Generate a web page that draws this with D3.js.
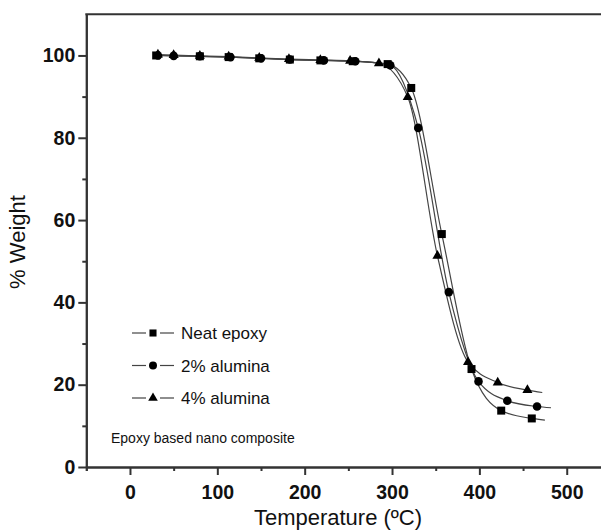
<!DOCTYPE html>
<html>
<head>
<meta charset="utf-8">
<script src="https://cdn.jsdelivr.net/npm/d3@7"></script>
<style>
  html, body { margin: 0; padding: 0; background: #fff; }
  svg { display: block; font-family: "Liberation Sans", Arial, sans-serif; }
</style>
</head>
<body>
<svg id="chart"></svg>
<script>
// Values (temperature in C, % weight)
const neatTemp = [30, 80, 113, 148, 183, 218, 255, 295, 322, 357, 391, 425, 460];
const neatWeight = [100.0, 99.8, 99.6, 99.3, 99.0, 98.8, 98.6, 97.9, 92.1, 56.6, 23.8, 13.7, 11.8];
const neatLineEnd = [475, 11.4];

const al2Temp = [32, 50, 80, 115, 150, 183, 222, 258, 298, 330, 365, 399, 432, 466];
const al2Weight = [100.0, 99.9, 99.8, 99.6, 99.3, 99.0, 98.8, 98.6, 97.6, 82.4, 42.5, 20.8, 16.1, 14.7];
const al2LineEnd = [482, 14.4];

const al4Temp = [32, 50, 80, 113, 148, 182, 218, 252, 285, 318, 352, 387, 421, 455];
const al4Weight = [100.2, 100.1, 99.9, 99.7, 99.4, 99.1, 98.9, 98.7, 98.1, 89.9, 51.3, 25.5, 20.5, 18.7];
const al4LineEnd = [472, 18.1];

const seriesNames = ['Neat epoxy', '2% alumina', '4% alumina'];
const xMajorTicks = [0, 100, 200, 300, 400, 500];
const xMinorTicks = [-50, 50, 150, 250, 350, 450, 550];
const yMajorTicks = [0, 20, 40, 60, 80, 100];
const yMinorTicks = [10, 30, 50, 70, 90];

const w = 601;
const h = 531;

const svg = d3.select('#chart')
    .attr('width', w)
    .attr('height', h);

// Scales (the frame runs past the right edge of the picture)
const scaleX = d3.scaleLinear().domain([-50, 550]).range([86.3, 610.4]);
const scaleY = d3.scaleLinear().domain([0, 110]).range([467, 14.3]);

const axisColor = '#333';

// Series
const makeSeries = (temps, weights, end, shape) => ({
    points: temps.map((t, i) => ({ t, w: weights[i] })),
    line: temps.map((t, i) => ({ t, w: weights[i] })).concat([{ t: end[0], w: end[1] }]),
    shape
});

const series = [
    makeSeries(neatTemp, neatWeight, neatLineEnd, 'square'),
    makeSeries(al2Temp, al2Weight, al2LineEnd, 'circle'),
    makeSeries(al4Temp, al4Weight, al4LineEnd, 'triangle')
];

const line = d3.line()
    .x(d => scaleX(d.t))
    .y(d => scaleY(d.w))
    .curve(d3.curveMonotoneX);

svg.append('g')
    .selectAll('path')
    .data(series)
    .enter().append('path')
    .attr('d', d => line(d.line))
    .attr('fill', 'none')
    .attr('stroke', '#444')
    .attr('stroke-width', 1.2);

const symbolFor = {
    square: d3.symbol(d3.symbolSquare, 64),
    circle: d3.symbol(d3.symbolCircle, 58),
    triangle: d3.symbol(d3.symbolTriangle, 44)
};

series.forEach(s => {
    svg.append('g')
        .selectAll('path')
        .data(s.points)
        .enter().append('path')
        .attr('d', symbolFor[s.shape]())
        .attr('transform', d => `translate(${scaleX(d.t)}, ${scaleY(d.w)})`)
        .attr('fill', '#000');
});

// Axes
const styleAxis = g => {
    g.selectAll('.domain').attr('stroke', axisColor).attr('stroke-width', 2);
    g.selectAll('.tick line').attr('stroke', axisColor).attr('stroke-width', 2);
    g.selectAll('.tick text')
        .attr('fill', '#111')
        .style('font-size', '19.5px')
        .style('font-weight', 'bold');
};

svg.append('g')
    .attr('transform', `translate(0, ${scaleY(0)})`)
    .call(d3.axisBottom(scaleX).tickValues(xMinorTicks).tickSize(4).tickFormat(''))
    .call(styleAxis);

svg.append('g')
    .attr('transform', `translate(0, ${scaleY(0)})`)
    .call(d3.axisBottom(scaleX).tickValues(xMajorTicks).tickSize(8).tickPadding(10).tickSizeOuter(0))
    .call(styleAxis);

svg.append('g')
    .attr('transform', `translate(${scaleX(-50)}, 0)`)
    .call(d3.axisLeft(scaleY).tickValues(yMinorTicks).tickSize(4).tickFormat('').tickSizeOuter(0))
    .call(styleAxis);

svg.append('g')
    .attr('transform', `translate(${scaleX(-50)}, 0)`)
    .call(d3.axisLeft(scaleY).tickValues(yMajorTicks).tickSize(8).tickPadding(3).tickSizeOuter(0))
    .call(styleAxis);

// Top frame line
svg.append('line')
    .attr('x1', scaleX(-50) - 1)
    .attr('x2', w)
    .attr('y1', scaleY(110))
    .attr('y2', scaleY(110))
    .attr('stroke', axisColor)
    .attr('stroke-width', 2);

// Axis titles
svg.append('text')
    .attr('x', 338)
    .attr('y', 525)
    .attr('text-anchor', 'middle')
    .style('font-size', '22px')
    .attr('fill', '#111')
    .text('Temperature (ºC)');

svg.append('text')
    .attr('transform', 'translate(25, 242) rotate(-90)')
    .attr('text-anchor', 'middle')
    .style('font-size', '22px')
    .attr('fill', '#111')
    .text('% Weight');

// Legend
const legend = svg.append('g')
    .attr('transform', 'translate(132, 333)');

const legendShapes = ['square', 'circle', 'triangle'];
const legendSymbol = {
    square: d3.symbol(d3.symbolSquare, 50),
    circle: d3.symbol(d3.symbolCircle, 50),
    triangle: d3.symbol(d3.symbolTriangle, 40)
};

const rows = legend.selectAll('g')
    .data(seriesNames)
    .enter().append('g')
    .attr('transform', (d, i) => `translate(0, ${i * 32.5})`);

rows.append('line')
    .attr('x1', 0).attr('x2', 14).attr('y1', 0).attr('y2', 0)
    .attr('stroke', '#444').attr('stroke-width', 1.2);

rows.append('line')
    .attr('x1', 28).attr('x2', 42).attr('y1', 0).attr('y2', 0)
    .attr('stroke', '#444').attr('stroke-width', 1.2);

rows.append('path')
    .attr('d', (d, i) => legendSymbol[legendShapes[i]]())
    .attr('transform', 'translate(21, 0)')
    .attr('fill', '#000');

rows.append('text')
    .attr('x', 49)
    .attr('y', 6)
    .style('font-size', '17px')
    .attr('fill', '#111')
    .text(d => d);

svg.append('text')
    .attr('x', 111)
    .attr('y', 443)
    .style('font-size', '14px')
    .attr('fill', '#111')
    .text('Epoxy based nano composite');
</script>
</body>
</html>
